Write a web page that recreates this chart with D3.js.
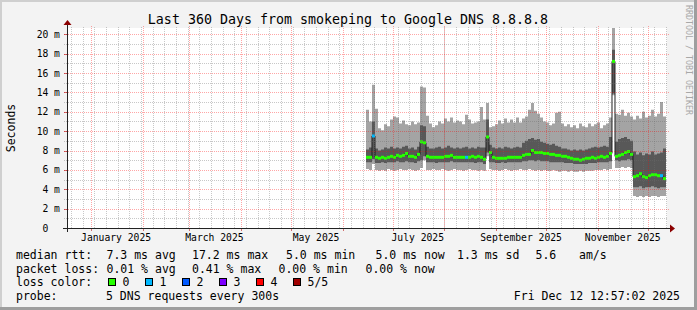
<!DOCTYPE html>
<html><head><meta charset="utf-8">
<script src="https://cdn.jsdelivr.net/npm/d3@7/dist/d3.min.js"></script>
<style>
body{margin:0;background:#f3f3f3}
svg{display:block}
text{font-family:"DejaVu Sans Mono",monospace;fill:#000}
</style>
</head><body>
<svg id="chart" width="697" height="310"></svg>
<script>
// ---------- data ----------
const title = "Last 360 Days from smokeping to Google DNS 8.8.8.8";
const timeStart = "2024-12-17T12:57:02Z";
const timeEnd = "2025-12-12T12:57:02Z";
const dataStart = "2025-06-14T22:30:00Z";
const binHours = 43.2;               // one sample every 1.8 days
const yMax = 20.65;                  // ms
const yTicks = [0, 2, 4, 6, 8, 10, 12, 14, 16, 18, 20];
const xLabelMonths = ["2025-01-01", "2025-03-01", "2025-05-01", "2025-07-01", "2025-09-01", "2025-11-01"];
const xLabelTexts = ["January 2025", "March 2025", "May 2025", "July 2025", "September 2025", "November 2025"];

// ping distribution per sample (ms): lowest, 2nd, median, 4th, highest
const pingMin = [6.1,6.0,6.6,6.0,5.9,6.0,5.9,6.1,6.0,5.9,6.0,6.1,6.0,6.0,6.1,6.0,5.9,6.0,6.2,7.0,
  6.0,6.0,6.1,6.0,6.0,6.1,6.0,5.9,6.0,6.1,6.0,6.0,5.9,6.0,6.1,6.0,6.0,5.9,6.0,5.9,7.4,6.1,
  6.0,6.0,5.9,6.0,6.1,6.0,5.9,6.0,6.0,6.1,6.0,6.0,6.1,6.0,5.9,6.0,5.9,6.0,5.9,5.9,6.0,5.9,5.8,5.9,5.9,5.8,5.9,5.8,5.8,5.9,5.8,5.9,5.9,5.9,6.0,6.0,6.0,6.1,6.0,6.1,
  13.7,6.2,6.2,6.3,6.2,6.3,6.2,
  3.3,3.2,3.3,3.2,3.3,3.2,3.3,3.3,3.2,3.3,3.3];
const ping2 = [6.8,6.8,7.1,6.7,6.7,6.8,6.7,6.8,6.8,6.8,6.9,6.8,6.8,6.9,6.8,6.8,6.7,6.9,7.0,7.4,
  6.8,6.8,6.8,6.7,6.8,6.8,6.8,6.8,6.9,6.8,6.8,6.8,6.8,6.8,6.8,6.8,6.7,6.8,6.8,6.6,7.8,6.8,
  6.8,6.7,6.7,6.8,6.7,6.8,6.8,6.8,6.8,6.8,6.9,6.9,7.0,7.0,6.9,7.0,6.9,6.9,6.9,6.8,6.8,6.8,6.8,6.8,6.7,6.7,6.7,6.6,6.6,6.6,6.6,6.6,6.7,6.7,6.7,6.8,6.8,6.8,6.8,6.9,
  13.9,7.0,6.9,7.0,7.0,7.1,7.0,
  4.2,4.2,4.3,4.1,4.2,4.2,4.3,4.2,4.1,4.2,4.2];
const pingMedian = [7.3,7.3,9.5,7.3,7.2,7.3,7.2,7.3,7.4,7.3,7.5,7.4,7.5,7.7,7.4,7.4,7.3,7.6,8.9,8.8,
  7.4,7.3,7.3,7.3,7.3,7.3,7.4,7.4,7.5,7.3,7.3,7.3,7.3,7.3,7.3,7.4,7.3,7.4,7.3,7.1,9.4,7.8,
  7.3,7.2,7.2,7.2,7.2,7.3,7.3,7.3,7.3,7.3,7.5,7.6,7.6,8.0,7.8,7.8,7.8,7.7,7.7,7.6,7.6,7.5,7.5,7.4,7.4,7.3,7.2,7.1,7.1,7.0,7.1,7.2,7.2,7.3,7.2,7.3,7.4,7.3,7.4,7.7,
  17.2,7.4,7.5,7.6,7.8,7.9,7.6,
  5.3,5.4,5.6,5.3,5.2,5.4,5.5,5.5,5.4,5.4,5.1];
const ping4 = [8.1,8.3,11.0,8.2,8.0,8.1,8.3,8.2,8.4,8.2,8.3,8.2,8.4,8.5,8.2,8.3,8.1,8.4,10.6,10.5,
  8.4,8.2,8.2,8.3,8.4,8.2,8.3,8.5,8.3,8.2,8.3,8.2,8.3,8.4,8.2,8.3,8.2,8.4,8.3,8.3,11.2,8.6,
  8.3,8.2,8.3,8.2,8.4,8.3,8.2,8.3,8.4,8.3,8.8,9.0,9.2,9.3,9.1,9.2,8.9,8.8,8.7,8.6,8.7,8.5,8.4,8.2,8.2,8.1,8.0,8.1,8.0,8.1,8.0,8.1,8.2,8.3,8.4,8.3,8.4,8.5,8.4,9.4,
  18.4,8.9,9.2,9.3,9.4,9.2,9.0,
  7.9,7.6,7.8,7.5,7.7,7.6,7.9,7.6,7.7,7.8,8.2];
const pingMax = [12.2,11.0,14.8,12.3,10.3,10.1,10.7,10.5,11.2,11.5,11.4,10.8,11.1,10.7,10.6,11.0,10.7,10.9,14.6,14.5,
  11.6,10.8,10.4,10.6,11.0,10.8,11.3,11.0,11.4,10.9,11.1,11.0,10.7,11.7,11.2,10.8,10.9,11.0,12.5,11.2,12.9,10.4,
  10.5,10.7,11.1,10.8,11.3,10.9,11.2,10.9,11.4,10.9,11.3,11.5,12.2,12.9,12.1,11.8,11.4,11.0,10.9,10.6,10.8,11.9,12.0,10.8,10.5,10.7,10.4,10.6,10.3,10.8,10.5,10.4,10.8,10.5,10.7,10.9,10.3,10.6,10.8,11.4,
  21.0,11.8,11.7,12.2,11.6,11.9,11.5,
  11.2,11.6,11.3,12.0,11.4,11.6,12.2,11.5,11.8,13.0,11.5];
// packets lost (of 5) per sample
const pingLoss = [0,0,1,0,0,0,0,0,0,0,0,0,0,0,0,0,0,0,0,0,
  0,0,0,0,0,0,0,0,0,0,0,0,0,1,0,0,0,0,0,0,0,0,
  0,0,0,0,0,0,0,0,0,0,0,0,0,0,0,0,0,0,0,0,0,0,0,0,0,0,0,0,0,0,0,0,0,0,0,0,0,0,0,0,
  0,0,0,0,0,0,0,
  0,0,0,0,0,0,0,0,0,1,0];

const lossLabels = ["0", "1", "2", "3", "4", "5/5"];
const lossColors = ["#26ff00", "#00b8ff", "#0059ff", "#7e00ff", "#ff0000", "#a00000"];

const legendRows = [
  ["median rtt:", "7.3 ms avg", "17.2 ms max", "5.0 ms min", "5.0 ms now", "1.3 ms sd", "5.6", "am/s"],
  ["packet loss:", "0.01 % avg", "0.41 % max", "0.00 % min", "0.00 % now"]
];
const probeText = "5 DNS requests every 300s";
const dateText = "Fri Dec 12 12:57:02 2025";
const yAxisTitle = "Seconds";
const watermark = "RRDTOOL / TOBI OETIKER";

// ---------- layout ----------
const W = 697, H = 310;
const X0 = 67, X1 = 667, Y0 = 228, Y1 = 28;
const svg = d3.select("#chart");

const x = d3.scaleUtc().domain([new Date(timeStart), new Date(timeEnd)]).range([X0, X1]);
const y = d3.scaleLinear().domain([0, yMax]).range([Y0, Y1]);

// background + 3D shading border
svg.append("rect").attr("width", W).attr("height", H).attr("fill", "#f3f3f3");
svg.append("path").attr("d", `M0,0H${W}V2H2V${H}H0Z`).attr("fill", "#cfcfcf");
svg.append("path").attr("d", `M${W},${H}H0V${H-3}H${W-3}V0H${W}Z`).attr("fill", "#9e9e9e");

// canvas
svg.append("rect").attr("x", X0).attr("y", Y1).attr("width", X1 - X0).attr("height", Y0 - Y1).attr("fill", "#fff");

const clipId = "plotclip";
svg.append("clipPath").attr("id", clipId).append("rect")
  .attr("x", X0).attr("y", Y1).attr("width", X1 - X0).attr("height", Y0 - Y1);

// ---------- data marks ----------
const t0 = new Date(dataStart).getTime();
const samples = pingMedian.map((m, i) => ({
  t: new Date(t0 + i * binHours * 3600e3),
  t1: new Date(t0 + (i + 1) * binHours * 3600e3),
  min: pingMin[i], p2: ping2[i], med: m, p4: ping4[i], max: pingMax[i], loss: pingLoss[i]
}));
const stepPts = samples.concat([Object.assign({}, samples[samples.length - 1], {t: samples[samples.length - 1].t1})]);

const g = svg.append("g").attr("clip-path", `url(#${clipId})`);
const area = (lo, hi) => d3.area().curve(d3.curveStepAfter)
  .x(d => x(d.t)).y0(d => y(d[lo])).y1(d => y(d[hi]));
g.append("path").datum(stepPts).attr("d", area("min", "max")).attr("fill", "#a4a4a4");
g.append("path").datum(stepPts).attr("d", area("p2", "p4")).attr("fill", "#585858");
g.append("path").datum(stepPts)
  .attr("d", d3.line().curve(d3.curveStepAfter).x(d => x(d.t)).y(d => y(d.med)))
  .attr("fill", "none").attr("stroke", "#202020").attr("stroke-width", 1);
g.selectAll("rect.loss").data(samples).join("rect").attr("class", "loss")
  .attr("x", d => x(d.t)).attr("width", d => x(d.t1) - x(d.t))
  .attr("y", d => y(d.med) - 1.5).attr("height", 3)
  .attr("fill", d => lossColors[d.loss]);

// ---------- grid (drawn over data like rrdtool) ----------
const grid = svg.append("g").attr("shape-rendering", "crispEdges");
const weeks = d3.utcFriday.range(new Date(timeStart), new Date(timeEnd));
const months = d3.utcMonth.range(new Date(timeStart), new Date(timeEnd));
const minorY = d3.range(1, 21, 2);
const minorCol = "rgba(110,110,110,0.38)", majorCol = "rgba(255,0,0,0.35)";
const px = v => Math.round(v) + 0.5;
grid.selectAll("line.vminor").data(weeks).join("line")
  .attr("x1", d => px(x(d))).attr("x2", d => px(x(d)))
  .attr("y1", Y1 - 1).attr("y2", Y0 + 1)
  .attr("stroke", minorCol).attr("stroke-dasharray", "1,1");
grid.selectAll("line.hminor").data(minorY).join("line")
  .attr("x1", X0 - 3).attr("x2", X1 + 1)
  .attr("y1", d => px(y(d))).attr("y2", d => px(y(d)))
  .attr("stroke", minorCol).attr("stroke-dasharray", "1,1");
grid.selectAll("line.vmajor").data(months).join("line")
  .attr("x1", d => px(x(d))).attr("x2", d => px(x(d)))
  .attr("y1", Y1 - 2).attr("y2", Y0 + 2)
  .attr("stroke", majorCol).attr("stroke-dasharray", "1,1");
grid.selectAll("line.hmajor").data(yTicks.slice(1)).join("line")
  .attr("x1", X0 - 3).attr("x2", X1 + 2)
  .attr("y1", d => px(y(d))).attr("y2", d => px(y(d)))
  .attr("stroke", majorCol).attr("stroke-dasharray", "1,1");

// ---------- axes ----------
const ax = svg.append("g").attr("shape-rendering", "crispEdges");
yTicks.forEach(v => ax.append("line").attr("x1", X0 - 3).attr("x2", X0).attr("y1", px(y(v))).attr("y2", px(y(v))).attr("stroke", "rgba(180,0,0,0.55)"));
months.forEach(d => ax.append("line").attr("x1", px(x(d))).attr("x2", px(x(d))).attr("y1", Y0).attr("y2", Y0 + 3).attr("stroke", "rgba(180,0,0,0.55)"));
ax.append("line").attr("x1", X0 - 4).attr("x2", X1 + 4).attr("y1", Y0 + 0.5).attr("y2", Y0 + 0.5).attr("stroke", "#222");
ax.append("line").attr("x1", X0 + 0.5).attr("x2", X0 + 0.5).attr("y1", Y0 + 4).attr("y2", Y1 - 4).attr("stroke", "#222");
svg.append("path").attr("d", `M${X1+3},${Y0-3.5}L${X1+8},${Y0+0.5}L${X1+3},${Y0+4.5}Z`).attr("fill", "#8b0000");
svg.append("path").attr("d", `M${X0-3.5},${Y1-3}L${X0+0.5},${Y1-8}L${X0+4.5},${Y1-3}Z`).attr("fill", "#8b0000");

// y tick labels
const yl = svg.append("g").style("font-size", "9.7px");
yTicks.forEach(v => {
  yl.append("text").attr("x", 48.3).attr("y", y(v) + 3.6).attr("text-anchor", "end").text(String(v));
  if (v !== 0) yl.append("text").attr("x", 54.1).attr("y", y(v) + 3.6).text("m");
});
// x labels centred half a month after the month start
const xl = svg.append("g").style("font-size", "9.7px");
xLabelMonths.forEach((m, i) => {
  xl.append("text").attr("x", x(d3.utcDay.offset(new Date(m + "T00:00:00Z"), 15)))
    .attr("y", 241).attr("text-anchor", "middle").text(xLabelTexts[i]);
});

// title
svg.append("text").attr("x", 348).attr("y", 24).attr("text-anchor", "middle")
  .style("font-size", "13.3px").text(title);
// y axis title
svg.append("text").attr("transform", `translate(15,${(Y0 + Y1) / 2}) rotate(-90)`)
  .attr("text-anchor", "middle").style("font-size", "11.5px").text(yAxisTitle);
// watermark
svg.append("text").attr("transform", "translate(685.5,5) rotate(90)")
  .style("font-size", "8.3px").style("fill", "#a8a8a8").text(watermark);

// ---------- legend ----------
const lg = svg.append("g").style("font-size", "11.5px").attr("xml:space", "preserve");
const row1X = [16, 106.5, 192, 286, 375.5, 457, 535.5, 579];
const row2X = [16, 106.5, 192, 278.5, 365.5];
legendRows[0].forEach((s, i) => lg.append("text").attr("x", row1X[i]).attr("y", 259).text(s));
legendRows[1].forEach((s, i) => lg.append("text").attr("x", row2X[i]).attr("y", 272.5).text(s));
lg.append("text").attr("x", 16).attr("y", 286).text("loss color:");
lossLabels.forEach((s, i) => {
  const bx = 108.5 + i * 37;
  lg.append("rect").attr("x", bx).attr("y", 278.5).attr("width", 7).attr("height", 7)
    .attr("fill", lossColors[i]).attr("stroke", "#000").attr("stroke-width", 1);
  lg.append("text").attr("x", bx + 14).attr("y", 286).text(s);
});
lg.append("text").attr("x", 16).attr("y", 299.5).text("probe:");
lg.append("text").attr("x", 106).attr("y", 299.5).text(probeText);
lg.append("text").attr("x", 680).attr("y", 299.5).attr("text-anchor", "end").text(dateText);
</script>
</body></html>
